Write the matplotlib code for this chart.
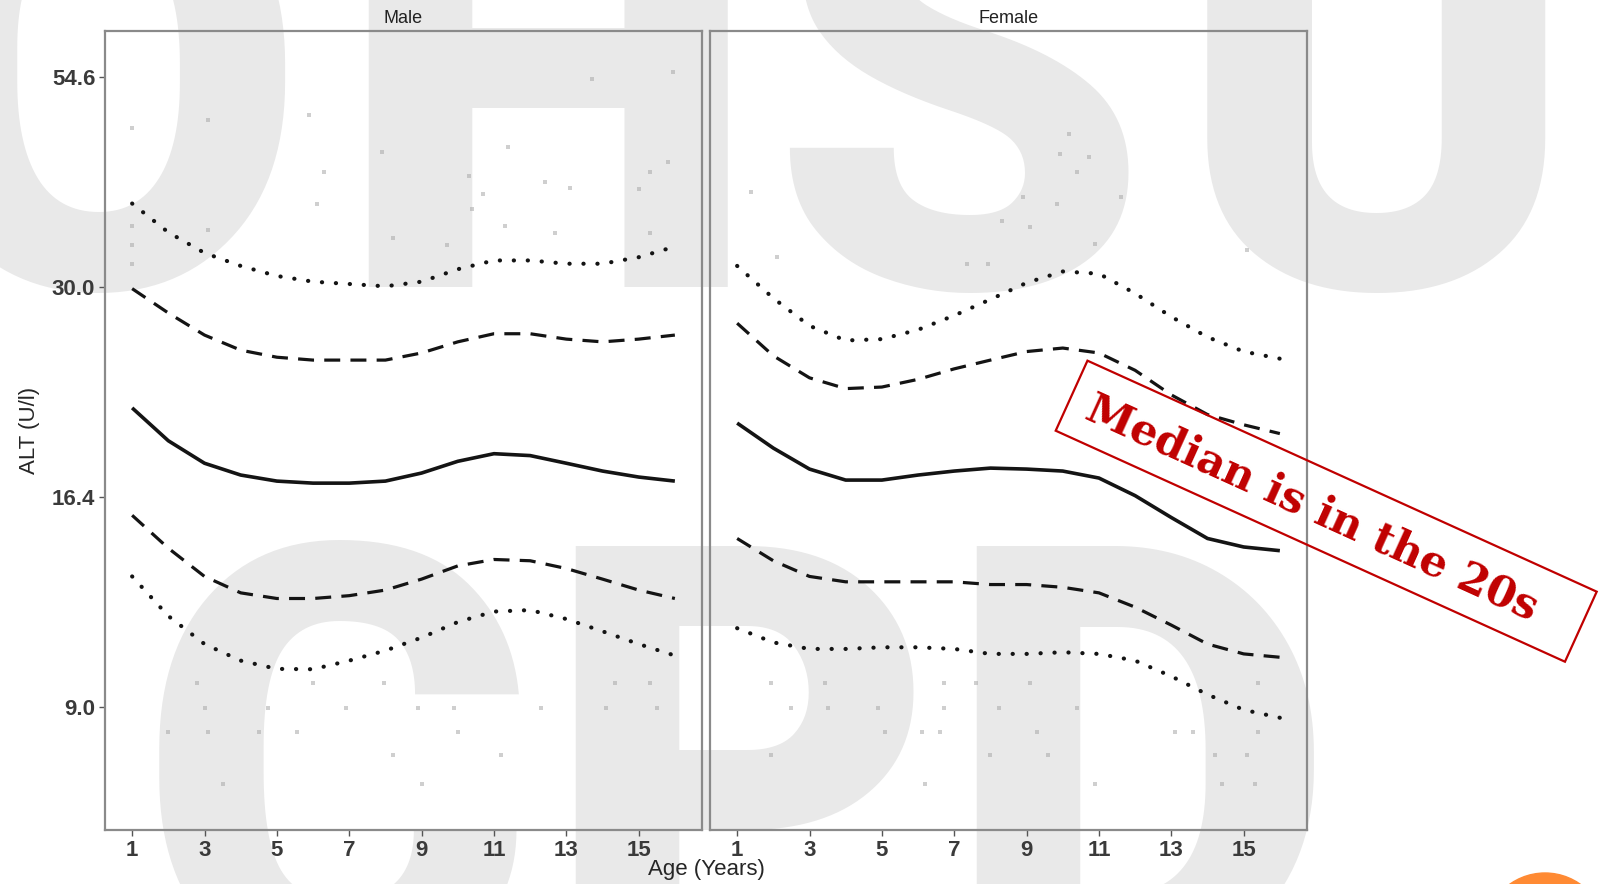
import numpy as np
import matplotlib
matplotlib.use("Agg")
import matplotlib.pyplot as plt
from matplotlib.patches import Rectangle, Circle
from matplotlib.ticker import FixedLocator, NullLocator

plt.rcParams['font.family'] = ['Liberation Sans', 'DejaVu Sans']

# ---- data (ALT in U/l, age in years) ----
age = [1, 2, 3, 4, 5, 6, 7, 8, 9, 10, 11, 12, 13, 14, 15, 16]

male_p975 = [38.0, 35.0, 33.0, 31.8, 30.9, 30.4, 30.2, 30.0, 30.4, 31.5, 32.3, 32.3, 32.0, 32.0, 32.6, 33.6]
male_p90 = [29.8, 27.8, 26.1, 25.0, 24.5, 24.3, 24.3, 24.3, 24.8, 25.6, 26.2, 26.2, 25.8, 25.6, 25.8, 26.1]
male_p50 = [21.2, 19.3, 18.1, 17.5, 17.2, 17.1, 17.1, 17.2, 17.6, 18.2, 18.6, 18.5, 18.1, 17.7, 17.4, 17.2]
male_p10 = [15.6, 14.2, 13.1, 12.5, 12.3, 12.3, 12.4, 12.6, 13.0, 13.5, 13.75, 13.7, 13.4, 13.0, 12.6, 12.3]
male_p025 = [13.1, 11.7, 10.8, 10.3, 10.06, 10.05, 10.3, 10.6, 11.0, 11.5, 11.85, 11.9, 11.6, 11.2, 10.8, 10.45]

female_p975 = [31.8, 29.0, 26.8, 25.7, 25.8, 26.5, 27.6, 28.9, 30.3, 31.3, 31.1, 29.4, 27.5, 25.95, 24.9, 24.4]
female_p90 = [27.0, 24.6, 23.1, 22.4, 22.5, 23.0, 23.7, 24.3, 24.9, 25.15, 24.8, 23.6, 22.0, 20.8, 20.2, 19.7]
female_p50 = [20.3, 18.9, 17.8, 17.25, 17.25, 17.5, 17.7, 17.85, 17.8, 17.7, 17.35, 16.5, 15.5, 14.6, 14.25, 14.1]
female_p10 = [14.6, 13.7, 13.1, 12.9, 12.9, 12.9, 12.9, 12.8, 12.8, 12.7, 12.5, 12.0, 11.4, 10.8, 10.5, 10.4]
female_p025 = [11.3, 10.85, 10.65, 10.65, 10.7, 10.7, 10.65, 10.5, 10.5, 10.55, 10.5, 10.3, 9.85, 9.35, 8.95, 8.75]

# isolated observations that stand out of the cloud
male_pts_age = [1.0, 3.1, 5.9, 7.9, 11.4, 13.7, 15.95, 6.3, 12.4, 13.1, 15.8, 10.3, 8.2, 15.3, 6.1, 10.7,
                1.0, 1.0, 1.0, 3.1, 9.7, 10.4, 11.3, 12.7, 15.0, 15.3,
                2.8, 6.0, 7.95, 14.35, 15.3, 3.0, 4.75, 6.9, 8.9, 9.9, 12.3, 14.1, 15.5,
                2.0, 3.1, 4.5, 5.55, 10.0, 8.2, 11.2, 3.5, 9.0]
male_pts_alt = [47.2, 48.3, 49.0, 44.0, 44.7, 54.3, 55.4, 41.6, 40.4, 39.7, 42.8, 41.1, 34.4, 41.6, 38.0, 39.1,
                35.6, 33.8, 32.0, 35.2, 33.8, 37.4, 35.6, 34.9, 39.6, 34.9,
                9.65, 9.65, 9.65, 9.65, 9.65, 9.0, 9.0, 9.0, 9.0, 9.0, 9.0, 9.0, 9.0,
                8.4, 8.4, 8.4, 8.4, 8.4, 7.86, 7.86, 7.25, 7.25]

female_pts_age = [10.17, 9.93, 10.73, 10.4, 8.9, 11.6, 9.84, 8.33, 9.1, 10.9, 2.09, 1.37, 15.1, 7.36, 7.93,
                  1.93, 3.44, 6.73, 7.6, 9.1, 15.4, 2.49, 3.5, 4.9, 6.73, 8.25, 10.4,
                  5.1, 6.1, 6.6, 9.3, 13.1, 13.6, 15.4, 1.93, 8.0, 9.6, 14.2, 15.1,
                  6.2, 10.9, 14.4, 15.3]
female_pts_alt = [46.4, 43.8, 43.4, 41.6, 38.7, 38.7, 38.0, 36.2, 35.5, 33.9, 32.6, 39.3, 33.3, 32.0, 32.0,
                  9.65, 9.65, 9.65, 9.65, 9.65, 9.65, 9.0, 9.0, 9.0, 9.0, 9.0, 9.0,
                  8.4, 8.4, 8.4, 8.4, 8.4, 8.4, 8.4, 7.86, 7.86, 7.86, 7.86, 7.86,
                  7.25, 7.25, 7.25, 7.25]

y_ticks = [np.exp(2.2), np.exp(2.8), np.exp(3.4), np.exp(4.0)]
y_ticklabels = ['9.0', '16.4', '30.0', '54.6']
x_ticks = [1, 3, 5, 7, 9, 11, 13, 15]

W, H = 1599, 884
fig = plt.figure(figsize=(W / 100, H / 100), dpi=100)
fig.patch.set_facecolor('white')

# big background watermark
wm_col = '#e9e9e9'
for letter, cx in zip(['O', 'H', 'S', 'U'], [97, 548, 959, 1376]):
    fig.text(cx / W, 1 - 287 / H, letter, fontsize=435, fontfamily='Roboto', fontweight=900,
             color=wm_col, ha='center', va='baseline', zorder=-10)
for letter, cx in zip(['C', 'P', 'D'], [336, 739, 1139]):
    fig.text(cx / W, 1 - 975 / H, letter, fontsize=435, fontfamily='Roboto', fontweight=900,
             color=wm_col, ha='center', va='baseline', zorder=-10)

line_col = '#141414'
dotted = (0, (0.05, 3.3))
dashed = (0, (5.0, 3.2))


def draw_panel(ax, title, p975, p90, p50, p10, p025, pts_age, pts_alt):
    ax.set_facecolor('none')
    ax.scatter(pts_age, pts_alt, s=7, marker='s', color='#a8a8a8', alpha=0.55, linewidths=0, zorder=2)
    ax.plot(age, p975, color=line_col, lw=3.0, linestyle=dotted, dash_capstyle='round', zorder=3)
    ax.plot(age, p90, color=line_col, lw=2.3, linestyle=dashed, zorder=3)
    ax.plot(age, p50, color=line_col, lw=2.6, solid_capstyle='butt', zorder=3)
    ax.plot(age, p10, color=line_col, lw=2.3, linestyle=dashed, zorder=3)
    ax.plot(age, p025, color=line_col, lw=3.0, linestyle=dotted, dash_capstyle='round', zorder=3)
    ax.set_yscale('log')
    ax.set_xlim(0.25, 16.75)
    ax.set_ylim(6.35, 62.2)
    ax.yaxis.set_major_locator(FixedLocator(y_ticks))
    ax.yaxis.set_minor_locator(NullLocator())
    ax.set_yticklabels(y_ticklabels)
    ax.set_xticks(x_ticks)
    ax.tick_params(axis='both', length=4, width=1, color='#555555', labelsize=16,
                   labelcolor='#3a3a3a', pad=3)
    for lab in ax.get_xticklabels() + ax.get_yticklabels():
        lab.set_fontweight('bold')
    for sp in ax.spines.values():
        sp.set_color('#8a8a8a')
        sp.set_linewidth(1.6)
    ax.text(0.5, 1.016, title, transform=ax.transAxes, ha='center', va='center',
            fontsize=13, color='#222222')


ax_m = fig.add_axes([105 / W, 1 - 830 / H, 597 / W, 799 / H])
ax_f = fig.add_axes([710 / W, 1 - 830 / H, 597 / W, 799 / H])
draw_panel(ax_m, 'Male', male_p975, male_p90, male_p50, male_p10, male_p025, male_pts_age, male_pts_alt)
draw_panel(ax_f, 'Female', female_p975, female_p90, female_p50, female_p10, female_p025,
           female_pts_age, female_pts_alt)
ax_f.tick_params(axis='y', left=False, labelleft=False)

fig.text(706 / W, 1 - 870 / H, 'Age (Years)', ha='center', va='center', fontsize=16, color='#262626')
fig.text(30 / W, 1 - 430 / H, 'ALT (U/l)', ha='center', va='center', rotation=90, fontsize=16,
         color='#262626')

# red call-out box
red = '#c00000'
box = Rectangle((1055.7 / 100, (H - 430.7) / 100), 559.2 / 100, 76.9 / 100, angle=-24.4,
                transform=fig.dpi_scale_trans, fill=False, edgecolor=red, lw=1.6, zorder=20)
fig.add_artist(box)
fig.text(1312 / W, 1 - 508 / H, 'Median is in the 20s', rotation=-24.4, rotation_mode='anchor',
         ha='center', va='center', fontsize=31, fontfamily='DejaVu Serif', fontweight='bold',
         color=red, zorder=21)

# orange corner disc
disc = Circle((1545 / 100, (H - 934) / 100), 0.61, transform=fig.dpi_scale_trans,
              color='#ff8a33', zorder=22, clip_on=False)
fig.add_artist(disc)

fig.savefig('out.png', dpi=100)
